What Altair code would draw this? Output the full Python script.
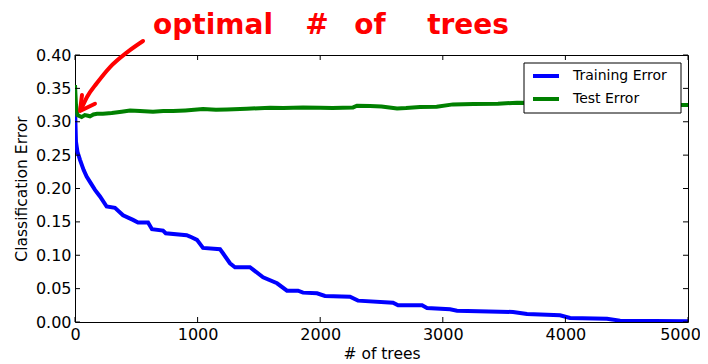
import altair as alt
import pandas as pd

# ---------------- data ----------------
train_x = [1, 8, 20, 41, 70, 95, 122, 163, 204, 258, 326, 392, 473, 514, 596, 628, 718, 740,
           911, 938, 995, 1044, 1183, 1207, 1264, 1305, 1427, 1534, 1648, 1729, 1819, 1860,
           1974, 2039, 2243, 2308, 2594, 2635, 2831, 2871, 3059, 3116, 3573, 3687, 3956,
           4038, 4339, 4446, 5000]
train_y = [0.315, 0.270, 0.255, 0.243, 0.228, 0.218, 0.210, 0.198, 0.188, 0.173, 0.171, 0.160,
           0.153, 0.149, 0.149, 0.139, 0.137, 0.133, 0.130, 0.128, 0.123, 0.111, 0.109, 0.103,
           0.088, 0.082, 0.082, 0.067, 0.058, 0.047, 0.047, 0.044, 0.043, 0.039, 0.038, 0.032,
           0.029, 0.025, 0.025, 0.021, 0.019, 0.017, 0.015, 0.012, 0.010, 0.006, 0.005, 0.002,
           0.001]

test_x = [0, 8, 20, 54, 80, 106, 122, 150, 180, 228, 300, 380, 449, 530, 636, 720, 800, 900,
          1044, 1150, 1240, 1400, 1591, 1700, 1860, 2000, 2100, 2268, 2300, 2406, 2500, 2580,
          2627, 2700, 2814, 2950, 3083, 3250, 3450, 3605, 3800, 4200, 4600, 4960, 5000]
test_y = [0.355, 0.325, 0.310, 0.307, 0.310, 0.309, 0.308, 0.311, 0.312, 0.312, 0.313, 0.315,
          0.317, 0.316, 0.315, 0.316, 0.316, 0.317, 0.319, 0.318, 0.3185, 0.3195, 0.321, 0.3205,
          0.3215, 0.321, 0.3205, 0.3215, 0.324, 0.3235, 0.323, 0.321, 0.320, 0.3205, 0.322,
          0.3225, 0.326, 0.3265, 0.327, 0.3285, 0.328, 0.327, 0.3265, 0.325, 0.325]

series = ["Training Error", "Test Error"]
colors = ["#0000ff", "#008000"]

x_ticks = [0, 1000, 2000, 3000, 4000, 5000]
y_ticks = [0.00, 0.05, 0.10, 0.15, 0.20, 0.25, 0.30, 0.35, 0.40]

# annotation (hand-drawn note), in data units
note_words = ["optimal", "#", "of", "trees"]
note_x = [1126, 1974, 2406, 3206]
note_y = [0.432, 0.432, 0.432, 0.432]
arrow_x = [555, 424, 286, 179, 98, 49]
arrow_y = [0.421, 0.404, 0.382, 0.358, 0.337, 0.318]
head_x = [57, 41, 163]
head_y = [0.340, 0.316, 0.327]

# ---------------- chart ----------------
W, H = 613, 267
FONT = "DejaVu Sans"
xs = alt.Scale(domain=[0, 5000], nice=False, zero=False)
ys = alt.Scale(domain=[0, 0.4], nice=False)

train_df = pd.DataFrame({"trees": train_x, "err": train_y})
test_df = pd.DataFrame({"trees": test_x, "err": test_y})

x_axis = alt.Axis(values=x_ticks, format="d", title="# of trees", ticks=False, domain=False,
                  grid=False, labelFontSize=16, labelFont=FONT, labelColor="#000",
                  labelPadding=4, titleFontSize=15.5, titleFont=FONT, titleFontWeight="normal",
                  titleColor="#000", titlePadding=4, labelFlush=False,
                  labelOffset={"condition": {"test": "datum.value >= 5000", "value": -8},
                               "value": 0})
y_axis = alt.Axis(values=y_ticks, format=".2f", title="Classification Error", ticks=False,
                  domain=False, grid=False, labelFontSize=16, labelFont=FONT, labelColor="#000",
                  labelPadding=4, titleFontSize=15.5, titleFont=FONT, titleFontWeight="normal",
                  titleColor="#000", titlePadding=6, labelFlush=False)


def X(field="trees"):
    return alt.X(f"{field}:Q", scale=xs, axis=x_axis)


def Y(field="err"):
    return alt.Y(f"{field}:Q", scale=ys, axis=y_axis)


train_line = alt.Chart(train_df).mark_line(color=colors[0], strokeWidth=4, clip=True).encode(
    x=X(), y=Y())
test_line = alt.Chart(test_df).mark_line(color=colors[1], strokeWidth=4, clip=True).encode(
    x=X(), y=Y())

# inward ticks on all four sides (matplotlib classic style)
xt_df = pd.DataFrame({"trees": x_ticks})
yt_df = pd.DataFrame({"err": y_ticks})
tick_color = "#000"
xt_bottom = alt.Chart(xt_df).mark_rule(color=tick_color, strokeWidth=1).encode(
    x=X(), y=alt.value(H - 5), y2=alt.value(H))
xt_top = alt.Chart(xt_df).mark_rule(color=tick_color, strokeWidth=1).encode(
    x=X(), y=alt.value(0), y2=alt.value(5))
yt_left = alt.Chart(yt_df).mark_rule(color=tick_color, strokeWidth=1).encode(
    y=Y(), x=alt.value(0), x2=alt.value(5))
yt_right = alt.Chart(yt_df).mark_rule(color=tick_color, strokeWidth=1).encode(
    y=Y(), x=alt.value(W - 5), x2=alt.value(W))

# legend (boxed, upper right)
box = alt.Chart(pd.DataFrame({"k": [0]})).mark_rect(
    fill="white", stroke="#000", strokeWidth=1).encode(
    x=alt.value(449), x2=alt.value(606), y=alt.value(8), y2=alt.value(58))
legend_layers = [box]
for i, (name, col) in enumerate(zip(series, colors)):
    yy = 21 + 23 * i
    ldf = pd.DataFrame({"name": [name]})
    legend_layers.append(alt.Chart(ldf).mark_rule(color=col, strokeWidth=4).encode(
        x=alt.value(458), x2=alt.value(484), y=alt.value(yy)))
    legend_layers.append(alt.Chart(ldf).mark_text(
        align="left", baseline="middle", font=FONT, fontSize=14, color="#000").encode(
        x=alt.value(498), y=alt.value(yy), text="name:N"))

# red annotation
note_df = pd.DataFrame({"trees": note_x, "err": note_y, "word": note_words})
note = alt.Chart(note_df).mark_text(
    font=FONT, fontSize=28, fontWeight="bold", color="#ff0000", align="center",
    baseline="alphabetic").encode(x=X(), y=Y(), text="word:N")
arrow_df = pd.DataFrame({"trees": arrow_x, "err": arrow_y, "o": list(range(len(arrow_x)))})
arrow = alt.Chart(arrow_df).mark_line(
    color="#ff0000", strokeWidth=4, strokeCap="round", interpolate="monotone").encode(
    x=X(), y=Y(), order="o:Q")
head_df = pd.DataFrame({"trees": head_x, "err": head_y, "o": list(range(len(head_x)))})
head = alt.Chart(head_df).mark_line(
    color="#ff0000", strokeWidth=4, strokeCap="round", strokeJoin="round").encode(
    x=X(), y=Y(), order="o:Q")

chart = alt.layer(
    train_line, test_line, xt_bottom, xt_top, yt_left, yt_right,
    *legend_layers, arrow, head, note,
).properties(
    width=W, height=H,
    autosize=alt.AutoSizeParams(type="none"),
    padding={"left": 67, "top": 47, "right": 12, "bottom": 40},
    background="white",
).configure_view(stroke="#000", strokeWidth=1)

chart.save("out.html", embed_options={"renderer": "svg", "actions": False})
